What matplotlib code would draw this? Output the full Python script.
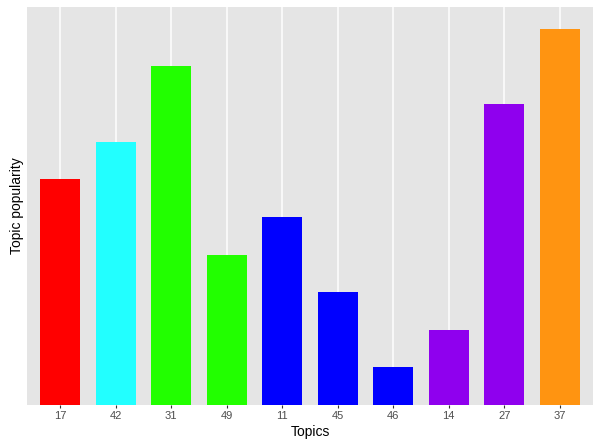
from matplotlib import pyplot as plt

topics = ["17", "42", "31", "49", "11", "45", "46", "14", "27", "37"]
popularity = [6, 7, 9, 4, 5, 3, 1, 2, 8, 10]
bar_colors = ["#FF0000", "#22FFFF", "#22FF00", "#22FF00", "#0000FF",
              "#0000FF", "#0000FF", "#8F00EE", "#8F00EE", "#FF9411"]

plt.rcParams['font.family'] = ['Liberation Sans', 'DejaVu Sans']

fig = plt.figure(figsize=(6, 4.47), dpi=100)
ax = fig.add_axes([27 / 600, 1 - 405 / 447, 566 / 600, 398 / 447])
ax.set_facecolor("#E5E5E5")

x = list(range(len(topics)))
ax.bar(x, popularity, width=0.72, color=bar_colors, zorder=3)

ax.set_xlim(-0.6, len(topics) - 0.4)
ax.set_ylim(0, 10.58)
ax.set_xticks(x)
ax.set_xticklabels(topics)
ax.set_yticks([])
ax.grid(axis='x', color='white', linewidth=1.1, zorder=0)
for s in ax.spines.values():
    s.set_visible(False)
ax.tick_params(axis='x', length=2.5, width=0.8, color="#333333",
               labelcolor="#4D4D4D", labelsize=8, pad=2)

ax.set_xlabel("Topics", fontsize=10, labelpad=3)
ax.set_ylabel("Topic popularity", fontsize=10, labelpad=2)

fig.savefig("out.png", dpi=100)
